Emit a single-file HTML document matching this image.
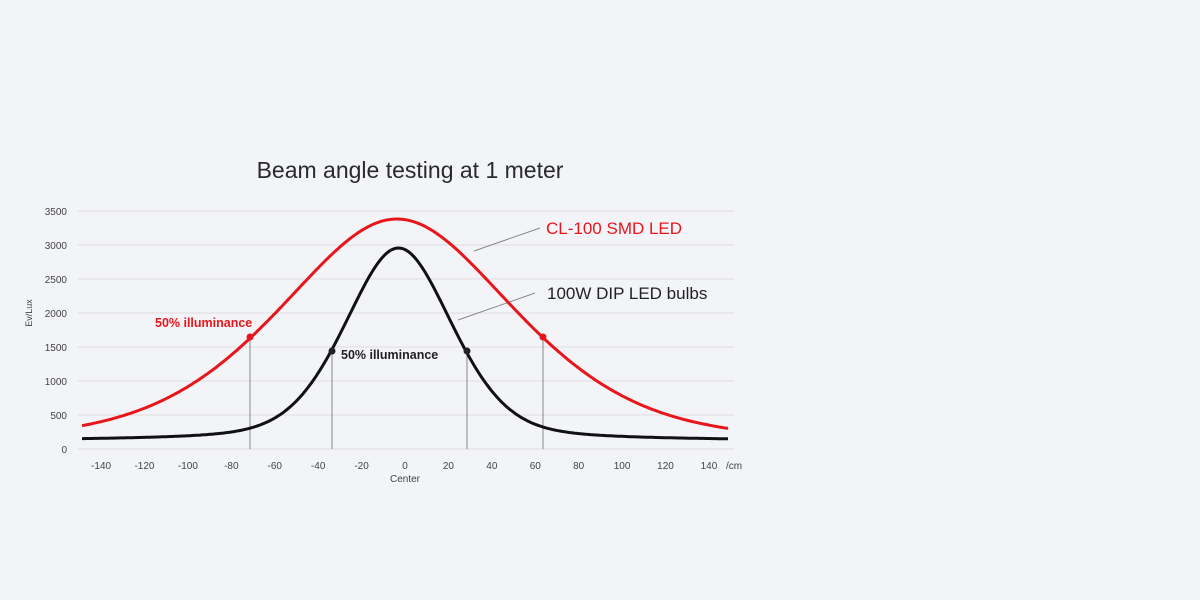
<!DOCTYPE html>
<html><head><meta charset="utf-8"><style>
html,body{margin:0;padding:0;background:#f3f4f8;}
svg{display:block;font-family:"Liberation Sans",sans-serif;}
</style></head><body>
<svg id="s" width="1200" height="600" viewBox="0 0 1200 600">
<rect width="1200" height="600" fill="#f3f4f8"/>
<text x="410" y="178" text-anchor="middle" font-size="23" fill="#2a2a2a">Beam angle testing at 1 meter</text>
<g stroke="#dcdde2" stroke-width="1">
<line x1="78" y1="211" x2="734" y2="211"/><line x1="78" y1="245" x2="734" y2="245"/>
<line x1="78" y1="279" x2="734" y2="279"/><line x1="78" y1="313" x2="734" y2="313"/>
<line x1="78" y1="347" x2="734" y2="347"/><line x1="78" y1="381" x2="734" y2="381"/>
<line x1="78" y1="415" x2="734" y2="415"/><line x1="78" y1="449" x2="734" y2="449"/>
</g>
<g font-size="10" fill="#444" text-anchor="end">
<text x="67" y="215">3500</text><text x="67" y="249">3000</text><text x="67" y="283">2500</text>
<text x="67" y="317">2000</text><text x="67" y="351">1500</text><text x="67" y="385">1000</text>
<text x="67" y="419">500</text><text x="67" y="453">0</text>
</g>
<text transform="translate(32,313) rotate(-90)" text-anchor="middle" font-size="9" fill="#444">Ev/Lux</text>
<g font-size="10" fill="#444" text-anchor="middle" id="xt"></g>
<text x="734" y="469" font-size="10" fill="#444" text-anchor="middle">/cm</text>
<text x="405" y="482" font-size="10" fill="#444" text-anchor="middle">Center</text>
<g stroke="#888" stroke-width="1">
<line x1="250" y1="337" x2="250" y2="449"/><line x1="543" y1="337" x2="543" y2="449"/>
<line x1="332" y1="351" x2="332" y2="449"/><line x1="467" y1="351" x2="467" y2="449"/>
<line x1="474" y1="251" x2="540" y2="228"/><line x1="458" y1="320" x2="535" y2="293"/>
</g>
<path id="red" fill="none" stroke="#e8161b" stroke-width="3"/>
<path id="blk" fill="none" stroke="#111" stroke-width="3"/>
<circle cx="250" cy="337" r="3.5" fill="#e8161b"/><circle cx="543" cy="337" r="3.5" fill="#e8161b"/>
<circle cx="332" cy="351" r="3.5" fill="#222"/><circle cx="467" cy="351" r="3.5" fill="#222"/>
<text x="155" y="327" font-size="12.5" font-weight="bold" fill="#e8161b">50% illuminance</text>
<text x="341" y="359" font-size="12.5" font-weight="bold" fill="#222">50% illuminance</text>
<text x="546" y="234" font-size="17" fill="#e8161b">CL-100 SMD LED</text>
<text x="547" y="299" font-size="17" fill="#222">100W DIP LED bulbs</text>
</svg>
<script>
var xt=document.getElementById('xt'),h='';
for(var c=-140;c<=140;c+=20){if(c==0){h+='<text x="405" y="469">0</text>';continue;}h+='<text x="'+(405+2.171*c)+'" y="469">'+c+'</text>';}
xt.innerHTML=h;
function pv(d,s,g,a){return (1-a)*Math.exp(-d*d/(2*s*s))+a/(1+(d/g)*(d/g));}
var r='',b='';
for(var x=82;x<=729;x+=2){var c=(x-405)/2.171;
var yr=449-230*pv(c+3.75,55.9,65.3,0.5);
var yb=441-193*pv(c+3,25.2,28.8,0.33);
r+=(x==82?'M':'L')+x+' '+yr.toFixed(1);b+=(x==82?'M':'L')+x+' '+yb.toFixed(1);}
document.getElementById('red').setAttribute('d',r);
document.getElementById('blk').setAttribute('d',b);
</script>
</body></html>
